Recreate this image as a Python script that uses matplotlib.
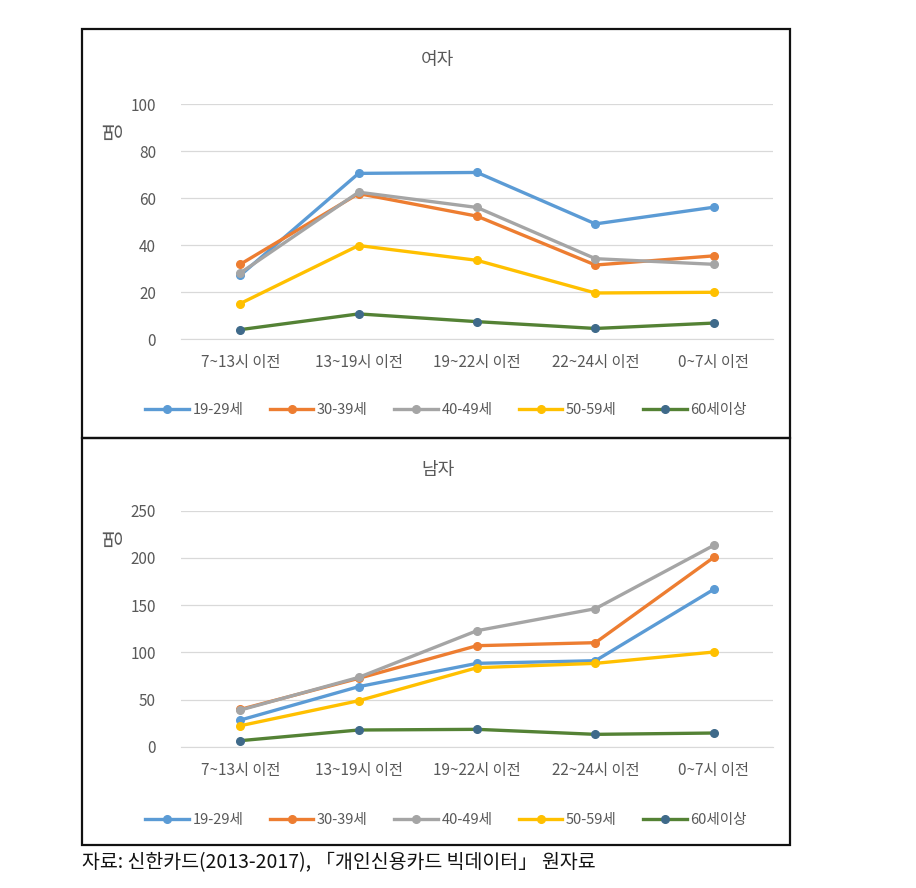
import matplotlib.pyplot as plt
from matplotlib.patches import Rectangle

plt.rcParams['font.family'] = ['Noto Sans CJK KR', 'DejaVu Sans']

time_slots = ["7~13시 이전", "13~19시 이전", "19~22시 이전", "22~24시 이전", "0~7시 이전"]
age_groups = ["19-29세", "30-39세", "40-49세", "50-59세", "60세이상"]

# 여자
female_1929 = [27.1, 70.5, 70.9, 49.0, 56.1]
female_3039 = [31.8, 61.9, 52.3, 31.5, 35.4]
female_4049 = [28.1, 62.5, 56.0, 34.2, 31.8]
female_5059 = [15.1, 39.8, 33.5, 19.6, 19.9]
female_60 = [4.0, 10.7, 7.4, 4.5, 6.8]

# 남자
male_1929 = [28.2, 63.6, 88.3, 91.1, 166.7]
male_3039 = [39.5, 72.4, 107.0, 110.2, 200.6]
male_4049 = [38.8, 73.4, 122.9, 146.2, 213.3]
male_5059 = [22.2, 48.7, 83.7, 88.3, 100.3]
male_60 = [6.4, 17.7, 18.4, 13.1, 14.5]

line_colors = ["#5B9BD5", "#ED7D31", "#A5A5A5", "#FFC000", "#548235"]
marker_colors = ["#5B9BD5", "#ED7D31", "#A5A5A5", "#FFC000", "#3F6A8A"]

fig = plt.figure(figsize=(9.16, 8.88), dpi=100)

# chart frames
fig.patches.append(Rectangle((0.0895, 0.5065), 0.773, 0.4605, transform=fig.transFigure,
                             fill=False, edgecolor="#111111", linewidth=1.6))
fig.patches.append(Rectangle((0.0895, 0.0485), 0.773, 0.458, transform=fig.transFigure,
                             fill=False, edgecolor="#111111", linewidth=1.6))


def draw_panel(rect, title, title_y, series, ymax, ystep, legend_y):
    ax = fig.add_axes(rect)
    x = list(range(len(time_slots)))
    for vals, lc, mc, name in zip(series, line_colors, marker_colors, age_groups):
        ax.plot(x, vals, color=lc, linewidth=2.4, marker="o", markersize=5.5,
                markerfacecolor=mc, markeredgecolor=mc, label=name)
    ax.set_xlim(-0.5, len(time_slots) - 0.5)
    ax.set_ylim(0, ymax)
    ax.set_yticks(range(0, ymax + 1, ystep))
    ax.set_xticks(x)
    ax.set_xticklabels(time_slots)
    ax.grid(axis="y", color="#D9D9D9", linewidth=0.9)
    ax.set_axisbelow(True)
    for s in ["top", "right", "left"]:
        ax.spines[s].set_visible(False)
    ax.spines["bottom"].set_color("#D9D9D9")
    ax.tick_params(length=0, labelsize=11, colors="#595959", pad=11)
    ax.tick_params(axis="y", pad=18)
    fig.text(0.478, title_y, title, ha="center", va="center", fontsize=13, color="#595959")
    fig.text(0.123, rect[1] + rect[3] - 0.03, "명", rotation=90, ha="center", va="center",
             fontsize=15, color="#595959")
    handles, labels = ax.get_legend_handles_labels()
    fig.legend(handles, labels, loc="center", bbox_to_anchor=(0.487, legend_y), ncol=5,
               frameon=False, fontsize=10.5, labelcolor="#595959", handlelength=3.0,
               columnspacing=1.8, handletextpad=0.25)
    return ax


draw_panel([0.1976, 0.6182, 0.6463, 0.2646], "여자", 0.932,
           [female_1929, female_3039, female_4049, female_5059, female_60], 100, 20, 0.538)
draw_panel([0.1976, 0.1591, 0.6463, 0.2658], "남자", 0.471,
           [male_1929, male_3039, male_4049, male_5059, male_60], 250, 50, 0.0766)

fig.text(0.09, 0.029, "자료: 신한카드(2013-2017), 「개인신용카드 빅데이터」 원자료",
         ha="left", va="center", fontsize=14, color="#111111")

fig.savefig("out.png", dpi=100)
